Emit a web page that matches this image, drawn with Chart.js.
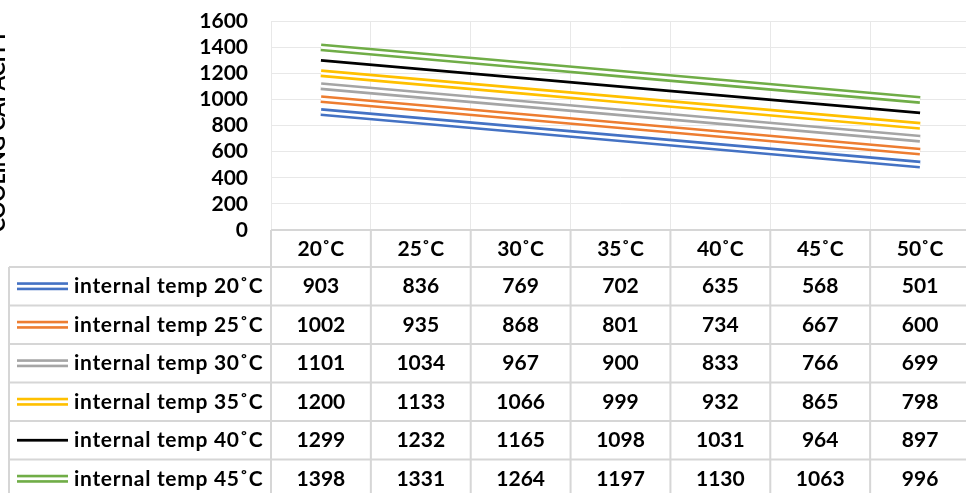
<!DOCTYPE html>
<html>
<head>
<meta charset="utf-8">
<script src="https://cdn.jsdelivr.net/npm/chart.js@4"></script>
<style>
  html, body { margin: 0; padding: 0; background: #fff; overflow: hidden; }
  #wrap { width: 970px; height: 493px; }
</style>
</head>
<body>
<div id="wrap"><canvas id="chart" width="970" height="493"></canvas></div>
<script>
// data (same numbers as the data table)
const categories = ["20˚C", "25˚C", "30˚C", "35˚C", "40˚C", "45˚C", "50˚C"];
const seriesNames = ["internal temp 20˚C", "internal temp 25˚C", "internal temp 30˚C",
                     "internal temp 35˚C", "internal temp 40˚C", "internal temp 45˚C"];
const temp20 = [903, 836, 769, 702, 635, 568, 501];
const temp25 = [1002, 935, 868, 801, 734, 667, 600];
const temp30 = [1101, 1034, 967, 900, 833, 766, 699];
const temp35 = [1200, 1133, 1066, 999, 932, 865, 798];
const temp40 = [1299, 1232, 1165, 1098, 1031, 964, 897];
const temp45 = [1398, 1331, 1264, 1197, 1130, 1063, 996];
const yTitle = "COOLING CAPACITY";

const allSeries = [temp20, temp25, temp30, temp35, temp40, temp45];
const colors = ["#4472C4", "#ED7D31", "#A5A5A5", "#FFC000", "#000000", "#70AD47"];
const doubleLine = [true, true, true, true, false, true];

const FONT = "bold 21px Lato";
const tableLine = "#d6d6d6";
const rowTop = 267, rowH = 38.5;
const outerW = 8, gapW = 2.75, singleW = 2.75;

// each double line = thick coloured stroke with a thin white stroke on top
let datasets = [];
allSeries.forEach((vals, i) => {
  datasets.push({
    label: seriesNames[i],
    data: vals,
    borderColor: colors[i],
    borderWidth: doubleLine[i] ? outerW : singleW,
    pointRadius: 0,
    tension: 0,
    order: 1
  });
  if (doubleLine[i]) {
    datasets.push({
      label: seriesNames[i] + " gap",
      data: vals,
      borderColor: "#ffffff",
      borderWidth: gapW,
      pointRadius: 0,
      tension: 0,
      order: 0
    });
  }
});

// data table + y title drawn under the plot
const tablePlugin = {
  id: "dataTable",
  afterDraw(chart) {
    const ctx = chart.ctx;
    const x = chart.scales.x;
    const area = chart.chartArea;
    const H = chart.height;
    const colW = x.getPixelForValue(1) - x.getPixelForValue(0);
    ctx.save();

    // y axis title, mostly cut off by the left edge
    ctx.save();
    ctx.font = FONT;
    ctx.fillStyle = "#000";
    ctx.translate(5, 131);
    ctx.rotate(-Math.PI / 2);
    ctx.textAlign = "center";
    ctx.textBaseline = "alphabetic";
    ctx.fillText(yTitle, 0, 0);
    ctx.restore();

    // grid of the table
    ctx.strokeStyle = tableLine;
    ctx.lineWidth = 2;
    ctx.beginPath();
    ctx.moveTo(area.left, area.bottom);
    ctx.lineTo(chart.width, area.bottom);
    for (let r = 0; r <= seriesNames.length; r++) {
      const y = rowTop + r * rowH;
      ctx.moveTo(9, y);
      ctx.lineTo(chart.width, y);
    }
    ctx.moveTo(9, rowTop);
    ctx.lineTo(9, H);
    for (let c = 0; c <= categories.length; c++) {
      const bx = x.getPixelForValue(0) - colW / 2 + c * colW;
      ctx.moveTo(bx, area.bottom);
      ctx.lineTo(bx, H);
    }
    ctx.stroke();

    ctx.font = FONT;
    ctx.fillStyle = "#000";
    ctx.textBaseline = "middle";
    ctx.textAlign = "center";
    categories.forEach((lab, c) => {
      ctx.fillText(lab, x.getPixelForValue(c), (area.bottom + rowTop) / 2 + 1);
    });

    allSeries.forEach((vals, r) => {
      const cy = rowTop + r * rowH + rowH / 2;
      // legend key
      if (doubleLine[r]) {
        ctx.fillStyle = colors[r];
        ctx.fillRect(17, cy - outerW / 2, 51, outerW);
        ctx.fillStyle = "#fff";
        ctx.fillRect(17, cy - gapW / 2, 51, gapW);
      } else {
        ctx.fillStyle = colors[r];
        ctx.fillRect(17, cy - singleW / 2, 51, singleW);
      }
      ctx.fillStyle = "#000";
      ctx.textAlign = "left";
      ctx.letterSpacing = "0.7px";
      ctx.fillText(seriesNames[r], 74, cy);
      ctx.letterSpacing = "0px";
      ctx.textAlign = "center";
      vals.forEach((v, c) => {
        ctx.fillText(String(v), x.getPixelForValue(c), cy);
      });
    });
    ctx.restore();
  }
};

Chart.defaults.font.family = "Lato";

new Chart(document.getElementById("chart"), {
  type: "line",
  data: { labels: categories, datasets: datasets },
  plugins: [tablePlugin],
  options: {
    responsive: false,
    animation: false,
    layout: { padding: { top: 21, left: 0, right: 0, bottom: 0 } },
    plugins: { legend: { display: false }, tooltip: { enabled: false } },
    scales: {
      x: {
        offset: true,
        grid: { offset: true, color: "#e8e8e8", lineWidth: 1, drawTicks: false },
        border: { display: false },
        ticks: { display: false },
        afterFit(scale) { scale.height = 263; }
      },
      y: {
        min: 0,
        max: 1600,
        grid: { color: "#e8e8e8", lineWidth: 1, drawTicks: false },
        border: { display: false },
        ticks: {
          stepSize: 200,
          autoSkip: false,
          padding: 23,
          color: "#000",
          font: { family: "Lato", size: 21, weight: "bold" },
          callback: (v) => String(v)
        },
        afterFit(scale) {
          scale.width = 271;
          scale.paddingTop = 0;
          scale.paddingBottom = 0;
        }
      }
    }
  }
});
</script>
</body>
</html>
